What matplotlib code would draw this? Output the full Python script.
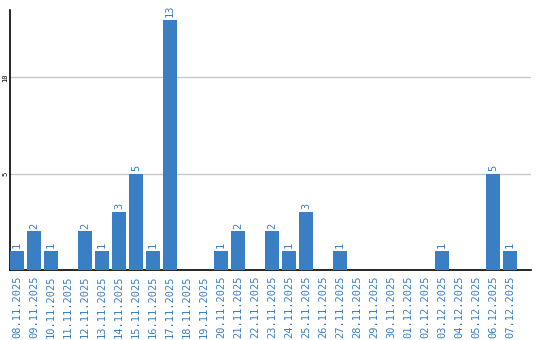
import matplotlib
matplotlib.use("Agg")
import matplotlib.pyplot as plt

dates = ["08.11.2025","09.11.2025","10.11.2025","11.11.2025","12.11.2025","13.11.2025",
         "14.11.2025","15.11.2025","16.11.2025","17.11.2025","18.11.2025","19.11.2025",
         "20.11.2025","21.11.2025","22.11.2025","23.11.2025","24.11.2025","25.11.2025",
         "26.11.2025","27.11.2025","28.11.2025","29.11.2025","30.11.2025","01.12.2025",
         "02.12.2025","03.12.2025","04.12.2025","05.12.2025","06.12.2025","07.12.2025"]
values = [1,2,1,0,2,1,3,5,1,13,0,0,1,2,0,2,1,3,0,1,0,0,0,0,0,1,0,0,5,1]

bar_color = "#3a7ec4"
label_color = "#3a7ec4"

fig = plt.figure(figsize=(5.4, 3.4), dpi=100)
ax = fig.add_axes([10/540, 70/340, 521/540, 260/340])
x = list(range(len(values)))
ax.bar(x, values, width=0.82, color=bar_color, zorder=3)
for xi, v in zip(x, values):
    if v > 0:
        ax.annotate(str(v), (xi, v), xytext=(0, 2), textcoords="offset points",
                    rotation=90, ha="center", va="bottom", color=label_color,
                    fontsize=7.5, family="DejaVu Sans Mono")
ax.set_xlim(-0.41, 30.24)
ax.set_ylim(0, 13.5)
ax.set_yticks([5, 10])
ax.set_yticklabels(["5", "10"], rotation=90, va="center", fontsize=5, family="DejaVu Sans Mono")
ax.set_xticks(x)
ax.set_xticklabels(dates, rotation=90, color=label_color, fontsize=7.5, family="DejaVu Sans Mono")
ax.tick_params(axis="both", length=0)
ax.tick_params(axis="x", pad=4)
ax.tick_params(axis="y", pad=1)
ax.yaxis.grid(True, color="#c8c8c8", linewidth=1, zorder=0)
ax.set_axisbelow(True)
for s in ["top", "right"]:
    ax.spines[s].set_visible(False)
ax.spines["left"].set_color("black")
ax.spines["bottom"].set_color("black")
ax.spines["left"].set_linewidth(1.2)
ax.spines["bottom"].set_linewidth(1.2)
fig.savefig("out.png", dpi=100)
